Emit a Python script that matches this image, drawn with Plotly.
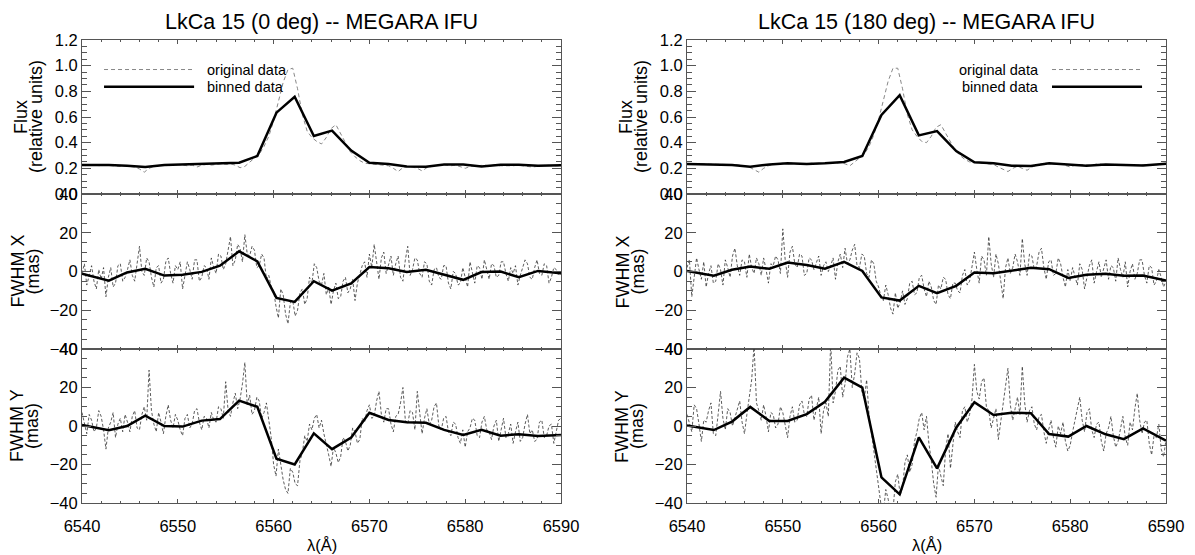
import plotly.graph_objects as go

# wavelength grids (Angstrom)
wave_flux = [6540 + 0.5 * i for i in range(101)]
wave_fwhm = [6540 + 0.25 * i for i in range(201)]
wave_bin = [6540.0, 6542.8, 6544.7, 6546.6, 6548.6, 6550.5, 6552.5, 6554.4, 6556.4,
            6558.3, 6560.3, 6562.2, 6564.2, 6566.1, 6568.1, 6570.0, 6572.0, 6573.9,
            6575.9, 6577.8, 6579.8, 6581.7, 6583.7, 6585.6, 6587.6, 6590.0]

# ---- LkCa 15 (0 deg) ----
flux0_orig = [0.225, 0.22, 0.225, 0.22, 0.22, 0.225, 0.22, 0.22, 0.215, 0.22,
              0.215, 0.21, 0.195, 0.17, 0.2, 0.215, 0.22, 0.225, 0.22, 0.225,
              0.23, 0.225, 0.22, 0.225, 0.21, 0.225, 0.23, 0.225, 0.23, 0.235,
              0.23, 0.235, 0.225, 0.205, 0.215, 0.25, 0.28, 0.31, 0.37, 0.45,
              0.57, 0.72, 0.87, 0.97, 0.98, 0.82, 0.62, 0.49, 0.44, 0.41,
              0.39, 0.44, 0.51, 0.54, 0.47, 0.39, 0.33, 0.29, 0.26, 0.24,
              0.235, 0.235, 0.23, 0.225, 0.22, 0.2, 0.175, 0.205, 0.215, 0.21,
              0.2, 0.18, 0.205, 0.215, 0.225, 0.23, 0.225, 0.22, 0.225, 0.215,
              0.2, 0.215, 0.22, 0.22, 0.225, 0.22, 0.225, 0.22, 0.22, 0.215,
              0.22, 0.225, 0.22, 0.215, 0.21, 0.215, 0.22, 0.225, 0.22, 0.22,
              0.22]
flux0_bin = [0.226, 0.226, 0.22, 0.21, 0.226, 0.23, 0.232, 0.234, 0.244, 0.296,
             0.634, 0.758, 0.452, 0.494, 0.338, 0.244, 0.234, 0.215, 0.213, 0.229,
             0.229, 0.214, 0.227, 0.227, 0.22, 0.224]

fwhmx0_orig = [-1, 4, -7, -2, 3, -5, -9, 1, -4, 2, -13, -3, 2, -8, -6, 3, 4, -5, -3, 1,
               6, -2, -5, 4, 13, 0, -2, 7, 5, -3, -8, 2, 3, -6, -4, 5, 7, -1, -6, 3,
               1, 5, -9, -2, 5, 1, -4, 6, 6, -5, -3, 3, 2, -4, 7, 2, -1, 9, 8, 1,
               4, 11, 18, 3, 6, 14, 12, 5, 19, 9, 8, 13, 11, 2, 3, 9, 7, -4, -2, -8,
               -10, -18, -24, -9, -12, -22, -27, -16, -15, -23, -20, -11, -9, -17, -14, -3, -6, 4, 2, -5,
               -7, -1, -12, -8, -17, -10, -6, -14, -13, -5, -3, -11, -9, -4, -15, -6, -2, 3, 5, -3,
               9, 2, 14, 6, -4, 7, 10, -1, 3, 8, -2, 4, 8, -3, -5, 6, 13, -2, 1, 7,
               6, -1, -3, 5, 4, -5, -7, 1, 2, -3, -4, 3, 3, -6, -9, 0, -1, -7, -6, 2,
               -3, -8, 5, -1, -6, 3, 2, -4, 6, 1, -4, 4, 3, -3, -2, 5, 5, -1, -5, 2,
               -1, 3, -7, -2, 2, 6, 4, -3, -4, 2, 6, -1, -2, 4, 3, -6, -3, 2, 1, -2,
               -1]
fwhmx0_bin = [-1.2, -4.7, -0.5, 1.4, -2.1, -1.7, -0.2, 3.0, 10.4, 5.2,
              -13.6, -15.7, -5.0, -9.9, -6.1, 2.3, 1.7, -0.2, 0.9, -1.7,
              -4.3, -0.3, 0.0, -3.0, 0.3, -0.9]

fwhmy0_orig = [7, 1, -4, 6, 3, -3, -1, 8, 5, -2, -12, -1, 2, 7, -6, 1, 4, -3, 6, 2,
               -3, 5, 8, -1, -2, 6, 10, 3, 29, 8, 1, -3, 7, 2, -4, 5, 11, 3, -1, 6,
               3, -2, -5, 4, 6, -1, 1, 8, 9, 2, -2, 5, 4, -1, 7, 3, 2, 10, 9, 4,
               23, 8, 5, 12, 17, 9, 14, 22, 33, 11, 16, 6, 8, 15, 13, 4, 7, 12, 3, -6,
               -20, -26, -12, -21, -28, -33, -35, -22, -24, -30, -31, -18, -14, -5, -8, 1, -2, 4, 6, -1,
               3, -4, -9, -15, -21, -11, -14, -19, -16, -6, -8, -13, -10, -1, -3, -9, -7, 4, 2, 8,
               11, 4, 5, 13, 18, 6, 2, 9, 9, 1, -3, 5, 6, 12, 20, 3, 1, 8, 7, -2,
               18, 6, -4, 4, 9, 1, 3, 10, 12, 0, -2, 4, 5, -3, -5, 2, 1, -6, -9, -2,
               -11, -3, -1, 4, 3, -5, -6, 2, 5, -2, -3, -7, 0, 3, -8, -2, 4, -6, -4, 1,
               -9, -3, 2, -8, -6, 1, 6, -4, -2, -8, -7, 2, 3, -6, -5, 0, 1, -9, -3, 3,
               4]
fwhmy0_bin = [0.5, -2.2, 0.0, 5.4, 0.0, -0.3, 2.8, 3.6, 13.2, 10.0,
              -17.0, -20.0, -3.8, -12.0, -6.0, 6.9, 3.1, 1.9, 1.7, -2.0,
              -4.7, -2.0, -5.0, -4.3, -5.2, -4.7]

# ---- LkCa 15 (180 deg) ----
flux180_orig = [0.235, 0.235, 0.23, 0.235, 0.235, 0.23, 0.235, 0.23, 0.23, 0.225,
                0.23, 0.225, 0.22, 0.21, 0.19, 0.17, 0.2, 0.22, 0.23, 0.235,
                0.24, 0.235, 0.24, 0.235, 0.23, 0.235, 0.24, 0.235, 0.24, 0.24,
                0.245, 0.24, 0.245, 0.235, 0.22, 0.25, 0.28, 0.31, 0.37, 0.46,
                0.58, 0.73, 0.88, 0.98, 0.98, 0.82, 0.62, 0.5, 0.45, 0.41,
                0.4, 0.45, 0.52, 0.54, 0.47, 0.4, 0.34, 0.3, 0.27, 0.25,
                0.245, 0.245, 0.24, 0.235, 0.23, 0.21, 0.19, 0.175, 0.2, 0.215,
                0.2, 0.185, 0.21, 0.225, 0.235, 0.24, 0.235, 0.23, 0.235, 0.225,
                0.21, 0.225, 0.23, 0.23, 0.225, 0.23, 0.235, 0.23, 0.225, 0.23,
                0.23, 0.225, 0.23, 0.22, 0.225, 0.23, 0.23, 0.225, 0.23, 0.235,
                0.235]
flux180_bin = [0.234, 0.23, 0.226, 0.213, 0.23, 0.239, 0.234, 0.239, 0.249, 0.296,
               0.616, 0.77, 0.457, 0.49, 0.335, 0.247, 0.239, 0.22, 0.218, 0.239,
               0.23, 0.22, 0.23, 0.228, 0.222, 0.236]

fwhmx180_orig = [2, 6, -13, -3, 7, 1, -4, 5, -8, -1, 3, -6, -5, 4, 1, -7, 6, 2, -3, 8,
                 12, 3, -2, 6, 5, -3, 9, 2, -1, 7, 4, -2, 7, 1, -6, 4, 3, 8, 6, -1,
                 22, 6, -3, 10, 13, 4, 2, 9, 8, -2, -1, 7, 6, 1, 4, 8, -2, 3, 5, 0,
                 3, 7, -4, 5, 9, 2, 12, 4, 6, 11, 14, 3, 2, 9, 8, -1, -3, 6, 4, -5,
                 -8, -13, -15, -7, -12, -19, -22, -11, -19, -16, -10, -17, -14, -6, -5, -12, -11, -3, -2, -9,
                 -13, -5, -8, -15, -17, -7, -9, -3, -4, -12, -14, -6, -6, -10, -11, -2, 1, -7, -5, 3,
                 10, 1, -6, 8, 6, -2, 18, 4, -3, 9, 4, -5, -14, 2, 7, -1, 2, 9, 5, -2,
                 17, 4, -2, 9, 8, 1, 3, 10, 12, 2, -4, 5, 6, -2, -1, 7, 4, -3, -8, 1,
                 -5, 2, -2, -7, 4, 1, -9, -2, 3, 6, -6, 0, 5, -3, 1, 6, -4, 3, 2, -5,
                 7, 1, -3, 5, -8, 0, 4, -4, -1, 6, 6, -2, -6, 3, 2, -7, -5, 1, -3, -8,
                 -5]
fwhmx180_bin = [0.3, -2.2, 0.9, 2.6, 1.4, 4.6, 3.4, 1.4, 5.0, 0.3,
                -13.4, -15.0, -7.4, -11.2, -7.4, -0.5, -0.9, 0.5, 1.9, 1.2,
                -3.3, -1.7, -1.2, -2.2, -2.1, -4.6]

fwhmy180_orig = [6, 2, -3, 11, 9, 1, -8, 3, 2, 8, 12, -4, -5, 6, 18, 4, -2, 9, 7, 0,
                 4, 9, 13, 2, -4, 6, 15, 24, 42, 12, 8, 3, 11, 5, -3, 7, 6, -1, 1, 10,
                 7, 1, -6, 5, 10, 2, 3, 11, 13, 6, 5, 14, 16, 3, 9, 15, -4, 8, 12, 5,
                 44, 12, 18, 29, 31, 15, 22, 36, 40, 20, 27, 38, 35, 18, 14, 24, 6, -3, -12, -22,
                 -30, -41, -45, -33, -38, -46, -44, -29, -25, -36, -32, -19, -15, -24, -20, -8, -3, 4, 7, -2,
                 5, -9, -18, -30, -37, -20, -26, -31, -12, -4, -22, -9, 2, -3, -6, 8, 10, 2, 6, 14,
                 32, 18, 14, 23, 25, 10, 8, -1, 4, 9, -7, 3, 12, 22, 30, 11, 3, 9, 15, 6,
                 31, 12, 2, 8, 10, 1, -2, 5, 6, -3, -9, -2, 3, -6, -11, 0, -4, 2, -8, -13,
                 -10, -3, 4, 9, 15, 3, -3, 7, 9, -2, -6, 1, 2, -8, -13, -4, -1, 5, -5, -11,
                 -8, -1, 5, -6, -10, 2, -2, 9, 17, 3, -4, 2, 3, -9, -15, -5, -6, 1, -12, -16,
                 -7]
fwhmy180_bin = [0.3, -2.1, 2.3, 9.9, 2.6, 2.6, 6.2, 12.6, 25.1, 19.9,
                -26.7, -35.5, -5.9, -22.0, -0.9, 12.3, 5.7, 6.9, 6.6, -4.2,
                -5.5, 0.0, -4.3, -6.8, -1.2, -7.6]

titles = ["LkCa 15 (0 deg) -- MEGARA IFU", "LkCa 15 (180 deg) -- MEGARA IFU"]
ytitles = [("Flux", "(relative units)"), ("FWHM X", "(mas)"), ("FWHM Y", "(mas)")]

data = [
    [(flux0_orig, flux0_bin), (fwhmx0_orig, fwhmx0_bin), (fwhmy0_orig, fwhmy0_bin)],
    [(flux180_orig, flux180_bin), (fwhmx180_orig, fwhmx180_bin), (fwhmy180_orig, fwhmy180_bin)],
]

# the page puts the figure 8 px in from the top-left corner
OFF = 8
W, H = 1195 - OFF, 555 - OFF
font = "Liberation Sans, Arial, sans-serif"
axcol = "#555"

x_px = [(82 - OFF, 561 - OFF), (687 - OFF, 1166 - OFF)]
y_px = [(40 - OFF, 194 - OFF), (194 - OFF, 349 - OFF), (349 - OFF, 503 - OFF)]
ytitle_shift = [-61, -65, -65]

fig = go.Figure()
layout = dict(width=W, height=H, margin=dict(l=0, r=0, t=0, b=0, autoexpand=False),
              paper_bgcolor="white", plot_bgcolor="white", showlegend=False)
shapes, annotations = [], []

for col in range(2):
    x0, x1 = x_px[col]
    xdom = [x0 / W, x1 / W]
    for row in range(3):
        n = col * 3 + row + 1
        sfx = "" if n == 1 else str(n)
        orig, binned = data[col][row]
        flux = row == 0
        if flux:
            fig.add_trace(go.Scatter(x=wave_flux, y=orig, mode="lines", xaxis="x" + sfx, yaxis="y" + sfx,
                                     line=dict(color="#888", width=1, dash="4px,3px")))
        else:
            fig.add_trace(go.Scatter(x=wave_fwhm, y=orig, mode="lines", xaxis="x" + sfx, yaxis="y" + sfx,
                                     line=dict(color="#333", width=0.8, dash="3px,2px")))
        fig.add_trace(go.Scatter(x=wave_bin, y=binned, mode="lines", xaxis="x" + sfx, yaxis="y" + sfx,
                                 line=dict(color="black", width=2.5)))
        ya, yb = y_px[row]
        ydom = [1 - yb / H, 1 - ya / H]
        layout["xaxis" + sfx] = dict(
            domain=xdom, anchor="y" + sfx, range=[6540, 6590], dtick=10, tick0=6540,
            automargin=False, showline=True, linecolor=axcol, linewidth=1, mirror="ticks",
            ticks="inside", ticklen=4, tickcolor=axcol, showgrid=False, zeroline=False,
            minor=dict(dtick=2, ticks="inside", ticklen=2, tickcolor=axcol),
            showticklabels=(row == 2), tickfont=dict(family=font, size=16.5, color="black"),
            ticklabelstandoff=8)
        if flux:
            yr, ydt, ymin, fmt = [0, 1.2], 0.2, 0.05, ".1f"
        else:
            yr, ydt, ymin, fmt = [-40, 40], 20, 5, "d"
        layout["yaxis" + sfx] = dict(
            domain=ydom, anchor="x" + sfx, range=yr, dtick=ydt, tick0=yr[0], tickformat=fmt,
            automargin=False, showline=True, linecolor=axcol, linewidth=1, mirror="ticks",
            ticks="inside", ticklen=9, tickcolor=axcol, showgrid=False, zeroline=False,
            minor=dict(dtick=ymin, ticks="inside", ticklen=5, tickcolor=axcol),
            tickfont=dict(family=font, size=16.5, color="black"))
        # y titles (two lines)
        ymid = 1 - (ya + yb) / 2 / H
        for k, txt in enumerate(ytitles[row]):
            annotations.append(dict(text=txt, xref="paper", yref="paper",
                                    x=(x0 + ytitle_shift[row] + 15 * k) / W, y=ymid,
                                    xanchor="center", yanchor="middle", textangle=-90, showarrow=False,
                                    font=dict(family=font, size=18, color="black")))
        if flux:
            # legend drawn inside the flux panel
            if col == 0:
                seg, tx, anc = (6542.3, 6551.7), 6552.8, "left"
            else:
                seg, tx, anc = (6578.1, 6587.5), 6577.0, "right"
            for yy, lab, st in [(0.97, "original data", dict(color="#888", width=1, dash="4px,3px")),
                                (0.835, "binned data", dict(color="black", width=2.5))]:
                shapes.append(dict(type="line", xref="x" + sfx, yref="y" + sfx, x0=seg[0], x1=seg[1],
                                   y0=yy, y1=yy, line=st))
                annotations.append(dict(text=lab, xref="x" + sfx, yref="y" + sfx, x=tx, y=yy,
                                        xanchor=anc, yanchor="middle", showarrow=False,
                                        font=dict(family=font, size=14.5, color="black")))
    annotations.append(dict(text=titles[col], xref="paper", yref="paper", x=(x0 + x1) / 2 / W,
                            y=1 - (22 - OFF) / H, xanchor="center", yanchor="middle", showarrow=False,
                            font=dict(family=font, size=21.5, color="black")))
    annotations.append(dict(text="λ(Å)", xref="paper", yref="paper", x=(x0 + x1) / 2 / W,
                            y=1 - (545 - OFF) / H, xanchor="center", yanchor="middle", showarrow=False,
                            font=dict(family=font, size=16.5, color="black")))

layout["shapes"] = shapes
layout["annotations"] = annotations
fig.update_layout(**layout)
fig.write_html("out.html")
